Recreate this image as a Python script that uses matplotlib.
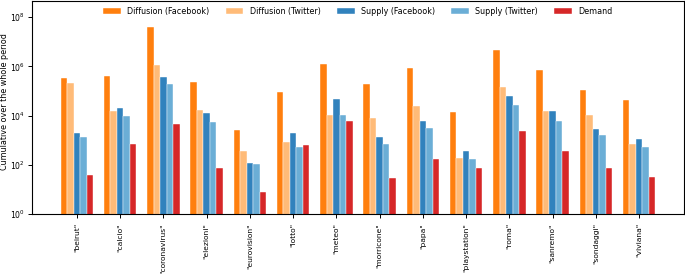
import numpy as np
import matplotlib
matplotlib.use("Agg")
import matplotlib.pyplot as plt
from matplotlib.ticker import FixedLocator, NullLocator, LogFormatterSciNotation

keywords = ["beirut", "calcio", "coronavirus", "elezioni", "eurovision", "lotto", "meteo",
            "morricone", "papa", "playstation", "roma", "sanremo", "sondaggi", "viviana"]

diffusion_fb = [3.3e5, 4.2e5, 4.0e7, 2.3e5, 2.5e3, 8.9e4, 1.2e6,
                1.9e5, 8.4e5, 1.4e4, 4.5e6, 6.9e5, 1.1e5, 4.3e4]
diffusion_tw = [2.1e5, 1.6e4, 1.17e6, 1.7e4, 375, 820, 1.05e4,
                8.0e3, 2.4e4, 190, 1.4e5, 1.5e4, 1.1e4, 680]
supply_fb = [1.9e3, 2.0e4, 3.8e5, 1.3e4, 122, 1.9e3, 4.6e4,
             1.35e3, 6.0e3, 375, 6.1e4, 1.6e4, 2.8e3, 1.15e3]
supply_tw = [1.35e3, 9.6e3, 2.0e5, 5.4e3, 108, 515, 1.1e4,
             700, 3.1e3, 178, 2.6e4, 6.0e3, 1.6e3, 530]
demand = [37, 700, 4.4e3, 72, 8.1, 635, 6.2e3,
          29, 167, 76, 2.4e3, 375, 74, 33]

series = [
    ("Diffusion (Facebook)", diffusion_fb, "#ff7f0e"),
    ("Diffusion (Twitter)", diffusion_tw, "#ffbb78"),
    ("Supply (Facebook)", supply_fb, "#3182bd"),
    ("Supply (Twitter)", supply_tw, "#6baed6"),
    ("Demand", demand, "#d62728"),
]

fig = plt.figure(figsize=(6.85, 2.74), dpi=100)
ax = fig.add_axes([32 / 685, 60 / 274, 652 / 685, 213 / 274])

x = np.arange(len(keywords))
w = 0.15
for i, (name, vals, col) in enumerate(series):
    ax.bar(x + (i - 2) * w, vals, w, color=col, label=name,
           edgecolor="white", linewidth=0.3)

ax.set_yscale("log")
ax.set_ylim(1, 10 ** 8.66)
ax.set_xlim(-1.04, 14.04)
ax.yaxis.set_major_locator(FixedLocator([1, 1e2, 1e4, 1e6, 1e8]))
ax.yaxis.set_major_formatter(LogFormatterSciNotation())
ax.yaxis.set_minor_locator(NullLocator())
ax.set_xticks(x)
ax.set_xticklabels(['"%s"' % k for k in keywords], rotation=90, fontsize=5.4)
ax.tick_params(axis="y", labelsize=5.6, pad=2)
ax.tick_params(length=3, width=0.7)
ax.set_ylabel("Cumulative over the whole period", fontsize=5.8)
ax.yaxis.set_label_coords(-0.035, 0.526)

ax.legend(loc="upper center", ncol=5, frameon=False, fontsize=5.8,
          handlelength=2.2, borderaxespad=0.3)

fig.savefig("out.png", dpi=100)
